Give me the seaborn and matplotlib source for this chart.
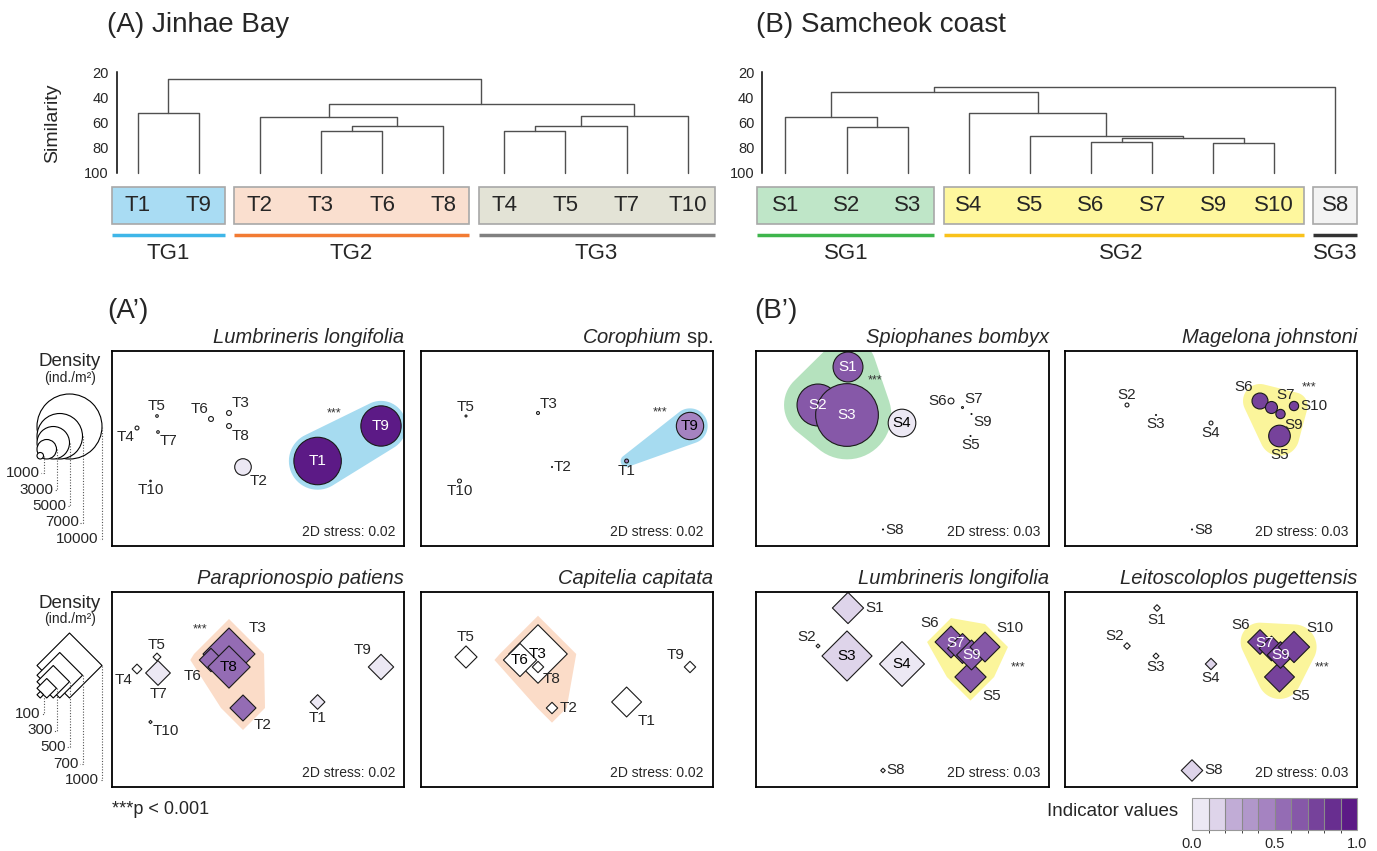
import numpy as np
import pandas as pd
import matplotlib
matplotlib.use('agg')
import matplotlib.pyplot as plt
import seaborn as sns
from matplotlib import font_manager
from matplotlib.colors import ListedColormap, BoundaryNorm
from matplotlib.patches import Rectangle
import matplotlib.cm as cm

# ---------------- data ----------------
# cluster dendrograms (leaf order, merges: child a, child b, similarity %)
jinhae_leaves = ['T1', 'T9', 'T2', 'T3', 'T6', 'T8', 'T4', 'T5', 'T7', 'T10']
jinhae_merges = [(0, 1, 52.5), (3, 4, 67.0), (11, 5, 62.8), (2, 12, 56.0), (6, 7, 67.0),
                 (14, 8, 62.8), (15, 9, 54.6), (13, 16, 45.0), (10, 17, 25.5)]
jinhae_groups = ['TG1', 'TG2', 'TG3']
jinhae_group_leaves = [(0, 1), (2, 5), (6, 9)]

samcheok_leaves = ['S1', 'S2', 'S3', 'S4', 'S5', 'S6', 'S7', 'S9', 'S10', 'S8']
samcheok_merges = [(1, 2, 63.3), (0, 10, 56.0), (5, 6, 75.7), (7, 8, 75.9), (12, 13, 72.5),
                   (4, 14, 70.4), (3, 15, 52.5), (11, 16, 35.6), (17, 9, 32.1)]
samcheok_groups = ['SG1', 'SG2', 'SG3']
samcheok_group_leaves = [(0, 2), (3, 8), (9, 9)]

# nMDS ordination (shared by every panel of one area)
jinhae_sites = ['T1', 'T2', 'T3', 'T4', 'T5', 'T6', 'T7', 'T8', 'T9', 'T10']
jinhae_nmds1 = [205.6, 131, 117, 25, 45, 99, 46, 117, 269, 38.5]
jinhae_nmds2 = [110, 116, 62, 77, 65, 68, 81, 75, 75, 130]

samcheok_sites = ['S1', 'S2', 'S3', 'S4', 'S5', 'S6', 'S7', 'S8', 'S9', 'S10']
samcheok_nmds1 = [92, 62, 91, 146, 214.5, 195, 206.5, 127, 215.5, 229]
samcheok_nmds2 = [16, 54, 64, 72, 85, 50, 56.5, 178.5, 63, 55]

# species density (ind./m2, 0 = absent) and indicator values
lumb_j_density = [7300, 2550, 750, 600, 400, 750, 400, 750, 6200, 250]
lumb_j_indval = [0.95, 0.05, 0, 0, 0, 0, 0, 0, 0.95, 0]
coro_density = [600, 150, 450, 0, 300, 0, 0, 0, 4200, 600]
coro_indval = [0.45, 0, 0, 0, 0, 0, 0, 0, 0.45, 0]
para_density = [225, 400, 800, 150, 120, 360, 380, 650, 390, 50]
para_indval = [0.05, 0.55, 0.55, 0, 0, 0.55, 0.05, 0.55, 0.05, 0]
capi_density = [460, 175, 900, 0, 340, 510, 0, 175, 175, 0]
capi_indval = [0, 0, 0, 0, 0, 0, 0, 0, 0, 0]

spio_density = [4600, 6450, 9650, 4250, 150, 900, 300, 150, 150, 0]
spio_indval = [0.68, 0.68, 0.68, 0.05, 0, 0, 0, 0, 0, 0]
mage_density = [0, 600, 150, 600, 3330, 2460, 1850, 150, 1430, 1430]
mage_indval = [0, 0, 0, 0, 0.75, 0.75, 0.75, 0, 0.75, 0.75]
lumb_s_density = [480, 60, 770, 690, 480, 490, 460, 70, 460, 460]
lumb_s_indval = [0.15, 0, 0.15, 0.05, 0.62, 0.62, 0.62, 0, 0.62, 0.62]
leit_density = [100, 100, 90, 175, 460, 380, 380, 330, 410, 480]
leit_indval = [0, 0, 0, 0.15, 0.7, 0.7, 0.7, 0.15, 0.7, 0.7]

circle_legend_values = [10000, 7000, 5000, 3000, 1000]
diamond_legend_values = [1000, 700, 500, 300, 100]

# ---------------- style ----------------
W, H = 1377, 851
CIRCLE_PX = 65 / 10000     # circle diameter (px) per ind./m2
DIAMOND_PX = 65 / 1000     # diamond diagonal (px) per ind./m2
PURPLES = ['#ECE8F4', '#DED4EA', '#C1ACD6', '#B197CA', '#A583C1',
           '#946CB4', '#8658A8', '#76429B', '#682E90', '#5C1A86']

sns.set_style('white')
names = {f.name for f in font_manager.fontManager.ttflist}
SANS = ['Liberation Sans', 'DejaVu Sans']
COND = (['Liberation Sans Narrow'] if 'Liberation Sans Narrow' in names else []) + SANS
plt.rcParams['font.family'] = SANS
plt.rcParams['mathtext.fontset'] = 'custom'
plt.rcParams['mathtext.it'] = 'Liberation Sans:italic'
plt.rcParams['mathtext.rm'] = 'Liberation Sans'

fig = plt.figure(figsize=(W / 100, H / 100), dpi=100)


def px_axes(x0, y0, w, h):
    return fig.add_axes([x0 / W, 1 - (y0 + h) / H, w / W, h / H])


def ftext(x, y, s, **kw):
    return fig.text(x / W, 1 - y / H, s, **kw)


def iv_color(v):
    return 'white' if v == 0 else PURPLES[min(int(v * 10), 9)]


def marker_px(d, marker):
    # full extent (diameter / diagonal) in pixels
    return d * (CIRCLE_PX if marker == 'o' else DIAMOND_PX)


def marker_s(d, marker):
    e = marker_px(d, marker) * 0.72
    return e ** 2 if marker == 'o' else (e / np.sqrt(2)) ** 2


def convex_hull(p):
    p = sorted(map(tuple, p))
    def cross(o, a, b):
        return (a[0] - o[0]) * (b[1] - o[1]) - (a[1] - o[1]) * (b[0] - o[0])
    lower, upper = [], []
    for q in p:
        while len(lower) >= 2 and cross(lower[-2], lower[-1], q) <= 0:
            lower.pop()
        lower.append(q)
    for q in reversed(p):
        while len(upper) >= 2 and cross(upper[-2], upper[-1], q) <= 0:
            upper.pop()
        upper.append(q)
    return np.array(lower[:-1] + upper[:-1])


# ---------------- dendrograms ----------------
def dendrogram(x_left, x_right, leaf0, leaves, merges, groups, spans, pads,
               box_colors, line_colors, axis_px):
    sp = 61.1
    top, bot = 60, 262
    ax = px_axes(x_left, top, x_right - x_left, bot - top)
    ax.set_xlim((x_left - leaf0) / sp, (x_right - leaf0) / sp)
    k = 101 / 80
    ax.set_ylim(20 + (bot - 72) / k, 20 + (top - 72) / k)
    ax.patch.set_alpha(0)
    xpos = list(range(len(leaves)))
    ypos = [100] * len(leaves)
    for a, b, sim in merges:
        ax.plot([xpos[a], xpos[a], xpos[b], xpos[b]], [ypos[a], sim, sim, ypos[b]],
                color='#505050', lw=1)
        xpos.append((xpos[a] + xpos[b]) / 2)
        ypos.append(sim)
    for i, lab in enumerate(leaves):
        ax.text(i, 126, lab, ha='center', va='center', fontsize=16, family=COND)
    for g, (a, b), (pl, pr), fc, lc in zip(groups, spans, pads, box_colors, line_colors):
        ax.add_patch(Rectangle((a - pl, 110.9), b - a + pl + pr, 29.7, facecolor=fc,
                               edgecolor='#a8a8a8', lw=1.2, zorder=0))
        ax.plot([a - pl, b + pr], [149, 149], color=lc, lw=2.5, solid_capstyle='butt')
        ax.text((a + b) / 2, 163.5, g, ha='center', va='center', fontsize=16, family=COND)
    for s in ['top', 'right', 'bottom']:
        ax.spines[s].set_visible(False)
    ax.spines['left'].set_position(('data', (axis_px - leaf0) / sp))
    ax.spines['left'].set_bounds(20, 100)
    ax.spines['left'].set_color('black')
    ax.spines['left'].set_linewidth(1.1)
    ax.set_xticks([])
    ax.set_yticks([20, 40, 60, 80, 100])
    ax.tick_params(axis='y', direction='inout', length=7, width=1.1, labelsize=10.5, pad=2)
    for t in ax.get_yticklabels():
        t.set_family(COND)
    return ax


dendrogram(95, 725, 137.7, jinhae_leaves, jinhae_merges, jinhae_groups, jinhae_group_leaves,
           [(0.42, 0.43), (0.42, 0.42), (0.42, 0.45)],
           ['#A9DCF3', '#FADFCF', '#E3E3D6'], ['#3FB6E8', '#F27B33', '#808080'], 116.5)
dendrogram(735, 1372, 785.5, samcheok_leaves, samcheok_merges, samcheok_groups, samcheok_group_leaves,
           [(0.47, 0.43), (0.41, 0.49), (0.36, 0.36)],
           ['#BFE6C8', '#FEF79E', '#F3F3F3'], ['#3EB54C', '#F9C21B', '#333333'], 762)

ftext(107, 32, '(A) Jinhae Bay', fontsize=20, va='baseline')
ftext(756, 32, '(B) Samcheok coast', fontsize=20, va='baseline')
ftext(53, 123, 'Similarity', fontsize=14, rotation=90, ha='center', va='center')
ftext(107, 318, '(A\u2019)', fontsize=20, va='baseline')
ftext(754, 318, '(B\u2019)', fontsize=20, va='baseline')

# ---------------- nMDS bubble panels ----------------
# label placement: direction away from the marker; 'c' inside, 'cnw' inside shifted up-left
DIRS = {'n': (0, 1, 'center', 'bottom'), 's': (0, -1, 'center', 'top'),
        'e': (1, 0, 'left', 'center'), 'w': (-1, 0, 'right', 'center'),
        'ne': (0.7, 0.7, 'left', 'bottom'), 'nw': (-0.7, 0.7, 'right', 'bottom'),
        'se': (0.7, -0.7, 'left', 'top'), 'sw': (-0.7, -0.7, 'right', 'top')}

jinhae = (jinhae_sites, jinhae_nmds1, jinhae_nmds2)
samcheok = (samcheok_sites, samcheok_nmds1, samcheok_nmds2)

panels = [
    dict(box=(112, 351, 292, 195), title='Lumbrineris longifolia', area=jinhae, marker='o',
         density=lumb_j_density, indval=lumb_j_indval, members=['T1', 'T9'],
         hull=('#A6DBF0', 'o', 5), star=(222, 62), stress='0.02',
         dirs=['c', 'se', 'ne', 'sw', 'n', 'nw', 'se', 'se', 'c', 's']),
    dict(box=(421, 351, 292, 195), title=r'$\mathit{Corophium}$ sp.', area=jinhae, marker='o',
         density=coro_density, indval=coro_indval, members=['T1', 'T9'],
         hull=('#A6DBF0', 'o', 4), star=(239, 61), stress='0.02',
         dirs=['s', 'e', 'ne', '', 'n', '', '', '', 'c', 's']),
    dict(box=(756, 351, 293, 195), title='Spiophanes bombyx', area=samcheok, marker='o',
         density=spio_density, indval=spio_indval, members=['S1', 'S2', 'S3'],
         hull=('#B5E2BE', 'o', 13), star=(119, 29), stress='0.03',
         dirs=['c', 'c', 'c', 'c', 's', 'w', 'ne', 'e', 'se', '']),
    dict(box=(1065, 351, 292, 195), title='Magelona johnstoni', area=samcheok, marker='o',
         density=mage_density, indval=mage_indval, members=['S5', 'S6', 'S7', 'S9', 'S10'],
         hull=('#FBF59B', 'o', 9), star=(244, 36), stress='0.03',
         dirs=['', 'n', 's', 's', 's', 'nw', 'ne', 'e', 'se', 'e']),
    dict(box=(112, 592, 292, 195), title='Paraprionospio patiens', area=jinhae, marker='D',
         density=para_density, indval=para_indval, members=['T2', 'T3', 'T6', 'T8'],
         hull=('#FBDCC8', 'D', 9), star=(88, 37), stress='0.02',
         dirs=['s', 'se', 'ne', 'sw', 'n', 'sw', 's', 'c', 'nw', 'se']),
    dict(box=(421, 592, 292, 195), title='Capitelia capitata', area=jinhae, marker='D',
         density=capi_density, indval=capi_indval, members=['T2', 'T3', 'T6', 'T8'],
         hull=('#FBDCC8', 'D', 9), star=None, stress='0.02',
         dirs=['se', 'e', 'c', '', 'n', 'c', '', 'se', 'nw', '']),
    dict(box=(756, 592, 293, 195), title='Lumbrineris longifolia', area=samcheok, marker='D',
         density=lumb_s_density, indval=lumb_s_indval, members=['S5', 'S6', 'S7', 'S9', 'S10'],
         hull=('#FBF59B', 'D', 8), star=(262, 75), stress='0.03',
         dirs=['e', 'nw', 'c', 'c', 'se', 'nw', 'cnw', 'e', 'c', 'ne']),
    dict(box=(1065, 592, 292, 195), title='Leitoscoloplos pugettensis', area=samcheok, marker='D',
         density=leit_density, indval=leit_indval, members=['S5', 'S6', 'S7', 'S9', 'S10'],
         hull=('#FBF59B', 'o', 7), star=(257, 75), stress='0.03',
         dirs=['s', 'nw', 's', 's', 'se', 'nw', 'cnw', 'e', 'c', 'ne']),
]

for p in panels:
    x0, y0, w, h = p['box']
    ax = px_axes(x0, y0, w, h)
    ax.set_xlim(0, w)
    ax.set_ylim(h, 0)
    sites, n1, n2 = p['area']
    m = p['marker']
    df = pd.DataFrame({'site': sites, 'nmds1': n1, 'nmds2': n2, 'density': p['density'],
                       'indval': p['indval'], 'dir': p['dirs']})
    df = df[df['density'] > 0].reset_index(drop=True)
    df['ext'] = [marker_px(d, m) for d in df['density']]

    # group hull drawn around the indicator stations
    hc, hshape, pad = p['hull']
    g = df[df['site'].isin(p['members'])]
    disp = ax.transData.transform(g[['nmds1', 'nmds2']].to_numpy())
    ang = np.linspace(0, 2 * np.pi, 60, endpoint=False) if hshape == 'o' else np.arange(4) * np.pi / 2
    pts = np.vstack([np.column_stack([px + (e / 2 + pad) * np.cos(ang), py + (e / 2 + pad) * np.sin(ang)])
                     for (px, py), e in zip(disp, g['ext'])])
    hull = ax.transData.inverted().transform(convex_hull(pts))
    ax.fill(hull[:, 0], hull[:, 1], color=hc, lw=0, zorder=0.5)

    sizes = {d: marker_s(d, m) for d in df['density'].unique()}
    pal = {v: iv_color(v) for v in df['indval'].unique()}
    sns.scatterplot(data=df, x='nmds1', y='nmds2', size='density', sizes=sizes, hue='indval',
                    palette=pal, marker=m, edgecolor='#1a1a1a', linewidth=0.8, legend=False,
                    ax=ax, zorder=2)
    ax.set_xlim(0, w)
    ax.set_ylim(h, 0)

    for _, r in df.iterrows():
        if r['dir'] in ('c', 'cnw'):
            shift = (-5, 4) if r['dir'] == 'cnw' else (0, 0)
            ax.annotate(r['site'], (r['nmds1'], r['nmds2']), xytext=shift, textcoords='offset points',
                        ha='center', va='center', fontsize=11, zorder=3,
                        color='white' if r['indval'] >= 0.62 else 'black')
        else:
            dx, dy, ha, va = DIRS[r['dir']]
            rad = (r['ext'] / 2 + 1.5) * 0.72
            ax.annotate(r['site'], (r['nmds1'], r['nmds2']), xytext=(dx * rad, dy * rad),
                        textcoords='offset points', ha=ha, va=va, fontsize=11, zorder=3)
    if p['star'] is not None:
        ax.text(p['star'][0], p['star'][1], '***', ha='center', va='center', fontsize=9, color='#333333')
    ax.text(w - 9, h - 7, '2D stress: ' + p['stress'], ha='right', va='bottom', fontsize=10, family=COND)
    ax.text(1.0, 1 + 8 / h, p['title'], transform=ax.transAxes, ha='right', va='baseline',
            fontsize=14.5, style='normal' if p['title'].startswith('$') else 'italic')
    ax.set_xlabel('')
    ax.set_ylabel('')
    ax.set_xticks([])
    ax.set_yticks([])
    for s in ax.spines.values():
        s.set_color('black')
        s.set_linewidth(1.3)

# ---------------- density legends ----------------
lax = px_axes(0, 330, 110, 470)
lax.set_xlim(0, 110)
lax.set_ylim(800, 330)
lax.axis('off')


def size_legend(values, marker, ybot, label_y0, title_y):
    x0 = 37
    ext = [marker_px(v, marker) for v in values]
    df = pd.DataFrame({'value': values, 'x': [x0 + e / 2 for e in ext], 'y': [ybot - e / 2 for e in ext]})
    sizes = {v: marker_s(v, marker) for v in values}
    sns.scatterplot(data=df, x='x', y='y', size='value', sizes=sizes, marker=marker, color='white',
                    edgecolor='black', linewidth=0.8, legend=False, ax=lax, zorder=2)
    for i, (v, e) in enumerate(zip(values[::-1], ext[::-1])):
        ly = label_y0 + 16.5 * i
        xr = x0 + e
        lax.plot([xr, xr, xr - 2.5], [ybot - e / 2, ly, ly], ls=(0, (1, 1.5)), lw=0.8, color='#555555')
        lax.text(xr - 3.5, ly, str(v), ha='right', va='center', fontsize=11, family=COND)
    lax.text(70, title_y, 'Density', ha='center', va='center', fontsize=13.5, family=COND)
    lax.text(70, title_y + 16, '(ind./m\u00b2)', ha='center', va='center', fontsize=10, family=COND)


size_legend(circle_legend_values, 'o', 459, 473, 362)
size_legend(diamond_legend_values, 'D', 698, 714, 603)
lax.set_xlim(0, 110)
lax.set_ylim(800, 330)
lax.set_xlabel('')
lax.set_ylabel('')

ftext(112, 809, '***p < 0.001', fontsize=13, va='center', family=COND)

# ---------------- indicator value colour bar ----------------
cmap = ListedColormap(PURPLES)
norm = BoundaryNorm(np.linspace(0, 1, 11), cmap.N)
cax = px_axes(1192, 798, 165, 32)
cb = fig.colorbar(cm.ScalarMappable(norm=norm, cmap=cmap), cax=cax, orientation='horizontal',
                  drawedges=True)
cb.set_ticks([0, 0.5, 1])
cb.ax.set_xticklabels(['0.0', '0.5', '1.0'])
cb.ax.tick_params(length=0, labelsize=10.5, pad=5)
for t in cb.ax.get_xticklabels():
    t.set_family(COND)
cb.outline.set_edgecolor('#999999')
cb.dividers.set_color('#8a8a8a')
cb.dividers.set_linewidth(0.8)
ftext(1178, 812, 'Indicator values', fontsize=13.5, ha='right', va='center', family=COND)

fig.savefig('out.png', dpi=100)
